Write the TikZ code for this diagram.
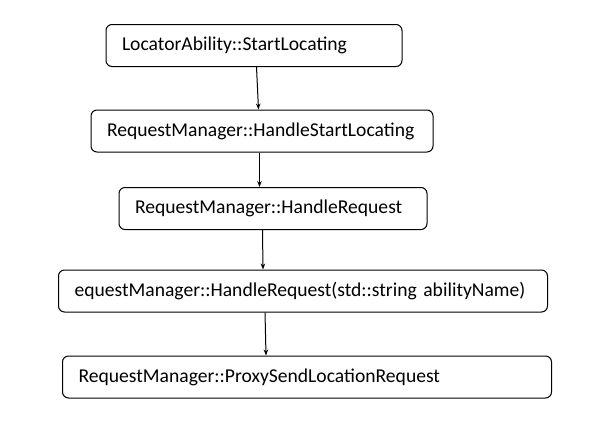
\documentclass[tikz,border=0pt]{standalone}
\usepackage{fontspec}
\setmainfont{Carlito}
\usetikzlibrary{arrows.meta}
\begin{document}
\begin{tikzpicture}[x=1pt, y=-1pt,
    box/.style={draw, rounded corners=6pt, line width=1pt, inner xsep=16pt, inner ysep=0pt,
                minimum height=42pt, align=left, font=\fontsize{19.6}{23}\selectfont},
    flow/.style={-{Stealth[length=6pt, width=4.5pt]}, line width=1pt}]
    \useasboundingbox (0,0) rectangle (616,424);
    \node[box, text width=264pt] (start) at (254,45.5) {LocatorAbility::StartLocating};
    \node[box, text width=310pt] (handlestart) at (262,131) {RequestManager::HandleStartLocating};
    \node[box, text width=276pt] (handle) at (273,208.5) {RequestManager::HandleRequest};
    \node[box, text width=457pt] (handlename) at (303,291) {equestManager::HandleRequest(std::string abilityName)};
    \node[box, text width=457pt] (proxy) at (307,377) {RequestManager::ProxySendLocationRequest};
    \draw[flow] ([xshift=151pt]start.south west) -- ([xshift=168pt]handlestart.north west);
    \draw[flow] ([xshift=169pt]handlestart.south west) -- ([xshift=141pt]handle.north west);
    \draw[flow] ([xshift=144pt]handle.south west) -- ([xshift=205pt]handlename.north west);
    \draw[flow] ([xshift=207pt]handlename.south west) -- ([xshift=204pt]proxy.north west);
\end{tikzpicture}
\end{document}
